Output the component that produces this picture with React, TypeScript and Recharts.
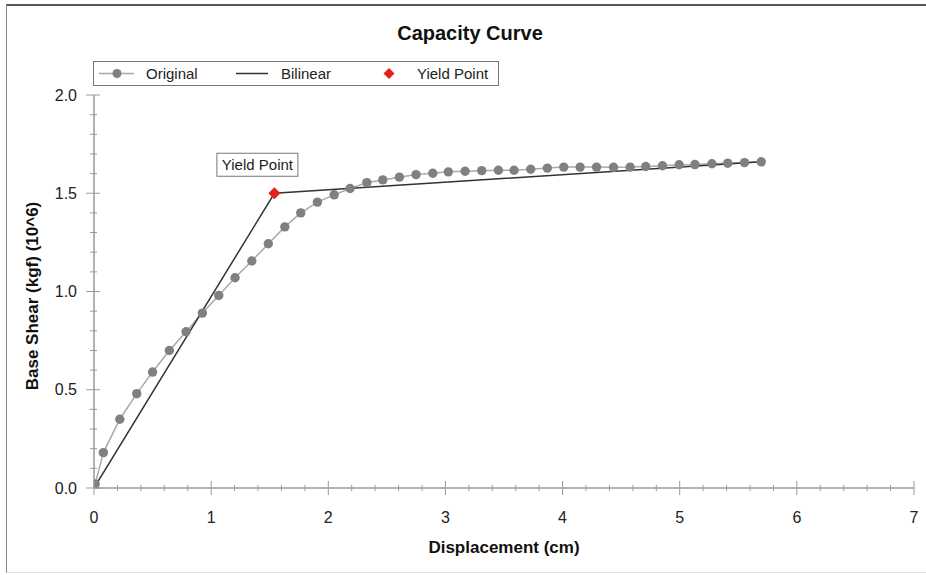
import React from 'react'
import { ComposedChart, Line, Scatter, XAxis, YAxis } from 'recharts'

// Capacity curve (pushover)
const ORIGINAL_X = [
  0.01, 0.08, 0.22, 0.365, 0.5, 0.643, 0.786, 0.925, 1.065, 1.204,
  1.347, 1.488, 1.629, 1.765, 1.907, 2.05, 2.186, 2.329, 2.465, 2.607,
  2.749, 2.892, 3.025, 3.168, 3.31, 3.452, 3.586, 3.728, 3.87, 4.01,
  4.15, 4.29, 4.435, 4.577, 4.71, 4.853, 4.995, 5.13, 5.275, 5.41,
  5.553, 5.696,
]
const ORIGINAL_Y = [
  0.02, 0.18, 0.35, 0.48, 0.59, 0.7, 0.795, 0.89, 0.98, 1.07,
  1.155, 1.243, 1.329, 1.4, 1.455, 1.492, 1.524, 1.554, 1.568, 1.582,
  1.595, 1.602, 1.609, 1.612, 1.615, 1.617, 1.617, 1.622, 1.628, 1.633,
  1.633, 1.633, 1.632, 1.633, 1.636, 1.64, 1.645, 1.646, 1.65, 1.653,
  1.656, 1.66,
]
const BILINEAR_X = [0, 1.54, 5.7]
const BILINEAR_Y = [0, 1.5, 1.66]
const YIELD_X = [1.54]
const YIELD_Y = [1.5]

const X_TICKS = [0, 1, 2, 3, 4, 5, 6, 7]
const Y_TICKS = [0, 0.5, 1.0, 1.5, 2.0]
const X_MINOR_STEP = 0.2
const Y_MINOR_STEP = 0.1

const FONT = '"Liberation Sans", Arial, sans-serif'
const AXIS = '#9a9a9a'
const DOT = '#808080'
const ORIG_LINE = '#a9a9a9'
const BILIN = '#333333'
const RED = '#e3211c'

const original = ORIGINAL_X.map((x, i) => ({ x, y: ORIGINAL_Y[i] }))
const bilinear = BILINEAR_X.map((x, i) => ({ x, y: BILINEAR_Y[i] }))
const yieldPt = YIELD_X.map((x, i) => ({ x, y: YIELD_Y[i] }))

// major ticks plus minor subdivisions (axis decoration only)
function withMinor(majors: number[], step: number): number[] {
  const out: number[] = []
  const lo = majors[0]
  const hi = majors[majors.length - 1]
  const n = Math.round((hi - lo) / step)
  for (let i = 0; i <= n; i++) out.push(+(lo + i * step).toFixed(3))
  return out
}
const xTicks = withMinor(X_TICKS, X_MINOR_STEP)
const yTicks = withMinor(Y_TICKS, Y_MINOR_STEP)

const isMajor = (v: number, majors: number[]) => majors.some((m) => Math.abs(m - v) < 1e-6)

function BottomTick(props: any) {
  const { x, y, payload } = props
  const major = isMajor(payload.value, X_TICKS)
  const s = major ? 7 : 3
  return (
    <g>
      <line x1={x} x2={x} y1={y - s} y2={y + s} stroke={AXIS} strokeWidth={1} />
      {major && (
        <text x={x} y={y + 35} textAnchor="middle" fontSize={16} fontFamily={FONT} fill="#222">
          {payload.value}
        </text>
      )}
    </g>
  )
}

function LeftTick(props: any) {
  const { x, y, payload } = props
  const major = isMajor(payload.value, Y_TICKS)
  return (
    <g>
      <line x1={x - (major ? 8 : 4)} x2={x + (major ? 6 : 3)} y1={y} y2={y} stroke={AXIS} strokeWidth={1} />
      {major && (
        <text x={x - 17} y={y} textAnchor="end" dominantBaseline="central" fontSize={16} fontFamily={FONT} fill="#222">
          {payload.value.toFixed(1)}
        </text>
      )}
    </g>
  )
}

function TopTick(props: any) {
  const { x, y, payload } = props
  const major = isMajor(payload.value, X_TICKS)
  return <line x1={x} x2={x} y1={y} y2={y + (major ? 7 : 4)} stroke={AXIS} strokeWidth={1} />
}

function RightTick(props: any) {
  const { x, y, payload } = props
  const major = isMajor(payload.value, Y_TICKS)
  return <line x1={x} x2={x - (major ? 7 : 4)} y1={y} y2={y} stroke={AXIS} strokeWidth={1} />
}

function YieldMarker(props: any) {
  const { cx, cy } = props
  const r = 6
  return (
    <g>
      <polygon points={`${cx},${cy - r} ${cx + r},${cy} ${cx},${cy + r} ${cx - r},${cy}`} fill={RED} />
      <rect x={cx - 57.5} y={cy - 40} width={81} height={23} fill="#fff" stroke="#777" strokeWidth={1} />
      <text
        x={cx - 17}
        y={cy - 28.5}
        textAnchor="middle"
        dominantBaseline="central"
        fontSize={15}
        fontFamily={FONT}
        fill="#222"
      >
        Yield Point
      </text>
    </g>
  )
}

function ChartLegend() {
  const text = { position: 'absolute' as const, top: 0, lineHeight: '23px', fontSize: 15, color: '#222' }
  return (
    <div
      style={{
        position: 'absolute',
        left: 93,
        top: 61,
        width: 404,
        height: 23,
        border: '1px solid #777',
        background: '#fff',
        fontFamily: FONT,
      }}
    >
      <svg width={404} height={23} style={{ position: 'absolute', left: 0, top: 0 }}>
        <line x1={5} x2={40} y1={11.5} y2={11.5} stroke={ORIG_LINE} strokeWidth={1.5} />
        <circle cx={23} cy={11.5} r={4.5} fill={DOT} />
        <line x1={142} x2={174} y1={11.5} y2={11.5} stroke={BILIN} strokeWidth={1.5} />
        <polygon points="295,6 300.5,11.5 295,17 289.5,11.5" fill={RED} />
      </svg>
      <span style={{ ...text, left: 52 }}>Original</span>
      <span style={{ ...text, left: 187 }}>Bilinear</span>
      <span style={{ ...text, left: 323 }}>Yield Point</span>
    </div>
  )
}

export default function App() {
  return (
    <div style={{ position: 'absolute', left: 0, top: 0, width: 926, height: 575, background: '#fff', overflow: 'hidden' }}>
      {/* outer frame */}
      <div
        style={{
          position: 'absolute',
          left: 6,
          top: 4,
          width: 940,
          height: 566,
          borderTop: '2px solid #555',
          borderLeft: '1px solid #888',
          borderBottom: '1px solid #e2e2e2',
        }}
      />
      <ComposedChart width={926} height={575} margin={{ top: 95, right: 12, bottom: 0, left: 0 }} style={{ position: 'absolute', left: 0, top: 0 }}>
        <XAxis
          type="number"
          dataKey="x"
          domain={[0, 7]}
          ticks={xTicks}
          interval={0}
          height={87}
          tickSize={0}
          tickMargin={0}
          tick={BottomTick}
          tickLine={false}
          axisLine={{ stroke: AXIS, strokeWidth: 1.5 }}
          allowDataOverflow
        />
        <XAxis
          xAxisId="top"
          orientation="top"
          type="number"
          dataKey="x"
          domain={[0, 7]}
          ticks={xTicks}
          interval={0}
          height={0}
          tickSize={0}
          tickMargin={0}
          tick={TopTick}
          tickLine={false}
          axisLine={{ stroke: AXIS, strokeWidth: 1.5 }}
          allowDataOverflow
        />
        <YAxis
          type="number"
          dataKey="y"
          domain={[0, 2]}
          ticks={yTicks}
          interval={0}
          width={94}
          tickSize={0}
          tickMargin={0}
          tick={LeftTick}
          tickLine={false}
          axisLine={{ stroke: AXIS, strokeWidth: 1.5 }}
          allowDataOverflow
        />
        <YAxis
          yAxisId="right"
          orientation="right"
          type="number"
          dataKey="y"
          domain={[0, 2]}
          ticks={yTicks}
          interval={0}
          width={0}
          tickSize={0}
          tickMargin={0}
          tick={RightTick}
          tickLine={false}
          axisLine={{ stroke: AXIS, strokeWidth: 1.5 }}
          allowDataOverflow
        />
        <Line
          data={original}
          dataKey="y"
          name="Original"
          type="linear"
          stroke={ORIG_LINE}
          strokeWidth={1.5}
          dot={{ r: 4.7, fill: DOT, stroke: DOT, strokeWidth: 0 }}
          activeDot={false}
          isAnimationActive={false}
        />
        <Line
          data={bilinear}
          dataKey="y"
          name="Bilinear"
          type="linear"
          stroke={BILIN}
          strokeWidth={1.5}
          dot={false}
          activeDot={false}
          isAnimationActive={false}
        />
        <Scatter data={yieldPt} dataKey="y" name="Yield Point" shape={YieldMarker} isAnimationActive={false} />
      </ComposedChart>

      <ChartLegend />

      <div
        style={{
          position: 'absolute',
          left: 0,
          width: 940,
          top: 22,
          textAlign: 'center',
          fontFamily: FONT,
          fontWeight: 'bold',
          fontSize: 20,
          color: '#111',
        }}
      >
        Capacity Curve
      </div>
      <div
        style={{
          position: 'absolute',
          left: 304,
          width: 400,
          top: 538,
          textAlign: 'center',
          fontFamily: FONT,
          fontWeight: 'bold',
          fontSize: 17,
          color: '#111',
        }}
      >
        Displacement (cm)
      </div>
      <div
        style={{
          position: 'absolute',
          left: 33 - 150,
          top: 296 - 11,
          width: 300,
          height: 22,
          lineHeight: '22px',
          textAlign: 'center',
          transform: 'rotate(-90deg)',
          fontFamily: FONT,
          fontWeight: 'bold',
          fontSize: 17,
          color: '#111',
        }}
      >
        Base Shear (kgf) (10^6)
      </div>
    </div>
  )
}
